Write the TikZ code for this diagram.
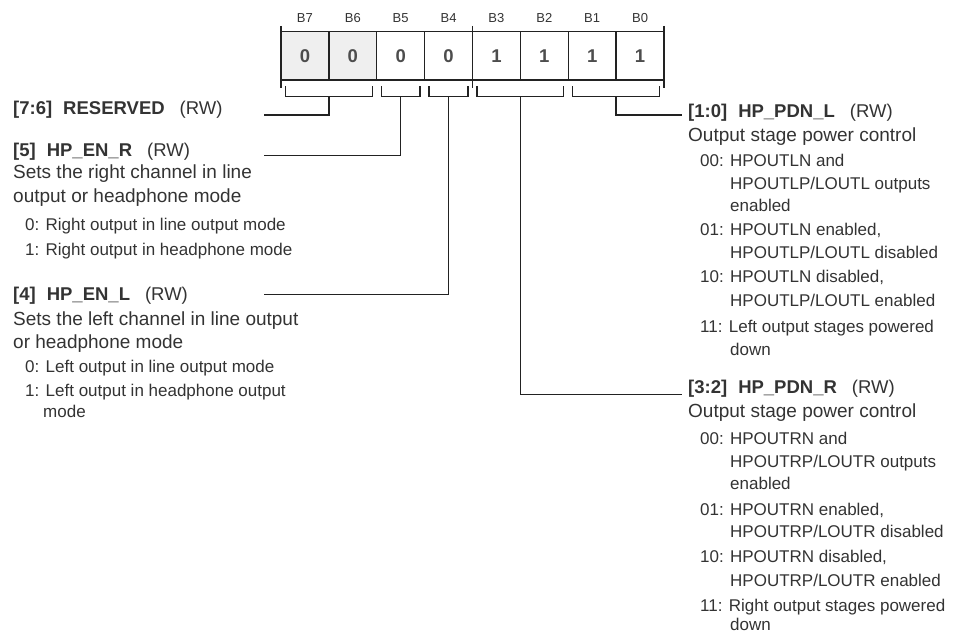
\documentclass[tikz,border=0pt]{standalone}
\usepackage{fontspec}
\setmainfont{Liberation Sans}
\usetikzlibrary{calc}
\definecolor{ink}{HTML}{333333}
\definecolor{rule}{HTML}{222222}
\definecolor{digit}{HTML}{4D4D4D}
\definecolor{rsvfill}{HTML}{EFEFEF}
\newcommand{\fieldhead}[2]{\textbf{#1}\hspace{11pt}\textbf{#2}\hspace{15pt}(RW)}

\begin{document}
\begin{tikzpicture}[
  x=1pt, y=-1pt,
  cell/.style={draw=rule, line width=1.3pt, minimum width=47.875pt, minimum height=48.3pt,
    inner sep=0pt, outer sep=0pt, font=\fontsize{18.5}{20}\selectfont\bfseries, text=digit},
  bitlabel/.style={font=\fontsize{13}{15}\selectfont, text=ink, inner sep=0pt},
  head/.style={anchor=base west, inner sep=0pt, text=ink, font=\fontsize{18.5}{22}\selectfont},
  desc/.style={anchor=base west, inner sep=0pt, text=ink, font=\fontsize{19}{23}\selectfont},
  item/.style={anchor=base west, inner sep=0pt, text=ink, font=\fontsize{17}{21}\selectfont},
  wire/.style={draw=rule, line width=1.3pt}
]

\useasboundingbox (0,0) rectangle (956,634);

% register cells, B7 on the left
\foreach \bit/\val/\shade [count=\i] in {7/0/rsvfill,6/0/rsvfill,5/0/white,4/0/white,3/1/white,2/1/white,1/1/white,0/1/white}{
  \node[cell, fill=\shade] (b\bit) at ({281+47.875*(\i-0.5)},56) {\raisebox{-2.5pt}{\val}};
  \node[bitlabel] (lbl\bit) at ({281+47.875*(\i-0.5)},18) {B\bit};
}

% nibble ticks
\foreach \n in {b7.west,b4.east,b0.east}
  \draw[wire] (\n) ++(0,-30) -- ++(0,62);

% field brackets
\foreach \name/\first/\last in {rsv/7/6,enr/5/5,enl/4/4,pdnr/3/2,pdnl/1/0}{
  \draw[wire] ($(b\first.south west)+(4.5,6)$) |- ($(b\last.south east)+(-4.5,16)$)
    -- ($(b\last.south east)+(-4.5,6)$);
  \coordinate (br\name) at ($(b\first.south west)!0.5!(b\last.south east)+(0,16)$);
}

% left side fields
\node[head] (rsv) at (13,114.5) {\fieldhead{[7:6]}{RESERVED}};
\node[head] (enr) at (13,156) {\fieldhead{[5]}{HP\_EN\_R}};
\foreach \y/\t [count=\n] in {178.5/Sets the right channel in line,202.8/output or headphone mode}
  \node[desc] (enrd\n) at (13,\y) {\t};
\foreach \x/\y/\t [count=\n] in {25/230/{0: Right output in line output mode},25/255.3/{1: Right output in headphone mode}}
  \node[item] (enri\n) at (\x,\y) {\t};

\node[head] (enl) at (13,300) {\fieldhead{[4]}{HP\_EN\_L}};
\foreach \y/\t [count=\n] in {325/Sets the left channel in line output,348.5/or headphone mode}
  \node[desc] (enld\n) at (13,\y) {\t};
\foreach \x/\y/\t [count=\n] in {25/372.7/{0: Left output in line output mode},25/396.7/{1: Left output in headphone output},43/417/mode}
  \node[item] (enli\n) at (\x,\y) {\t};

% right side fields
\node[head] (pdnl) at (688,117.3) {\fieldhead{[1:0]}{HP\_PDN\_L}};
\node[desc] (pdnld) at (688,141.8) {Output stage power control};
\foreach \x/\y/\t [count=\n] in {700/166/{00: HPOUTLN and},730/189.3/{HPOUTLP/LOUTL outputs},730/211/enabled,
    700/235.3/{01: HPOUTLN enabled,},730/258.7/{HPOUTLP/LOUTL disabled},
    700/282.7/{10: HPOUTLN disabled,},730/306/{HPOUTLP/LOUTL enabled},
    700/332.7/{11: Left output stages powered},730/355.3/down}
  \node[item] (pdnli\n) at (\x,\y) {\t};

\node[head] (pdnr) at (688,393.3) {\fieldhead{[3:2]}{HP\_PDN\_R}};
\node[desc] (pdnrd) at (688,417.8) {Output stage power control};
\foreach \x/\y/\t [count=\n] in {700/444.3/{00: HPOUTRN and},730/467.7/{HPOUTRP/LOUTR outputs},730/489.3/enabled,
    700/515.3/{01: HPOUTRN enabled,},730/537.7/{HPOUTRP/LOUTR disabled},
    700/562.7/{10: HPOUTRN disabled,},730/586/{HPOUTRP/LOUTR enabled},
    700/611/{11: Right output stages powered},730/630.5/down}
  \node[item] (pdnri\n) at (\x,\y) {\t};

% leader lines
\coordinate (rsvend) at (264,115);
\coordinate (enrend) at (264,155.5);
\coordinate (enlend) at (264,294.3);
\coordinate (pdnlend) at (682,115);
\coordinate (pdnrend) at (682,394.3);
\draw[wire] (brrsv) |- (rsvend);
\draw[wire] (brenr) |- (enrend);
\draw[wire] (brenl) |- (enlend);
\draw[wire] (brpdnr) |- (pdnrend);
\draw[wire] (brpdnl) |- (pdnlend);
\end{tikzpicture}
\end{document}
